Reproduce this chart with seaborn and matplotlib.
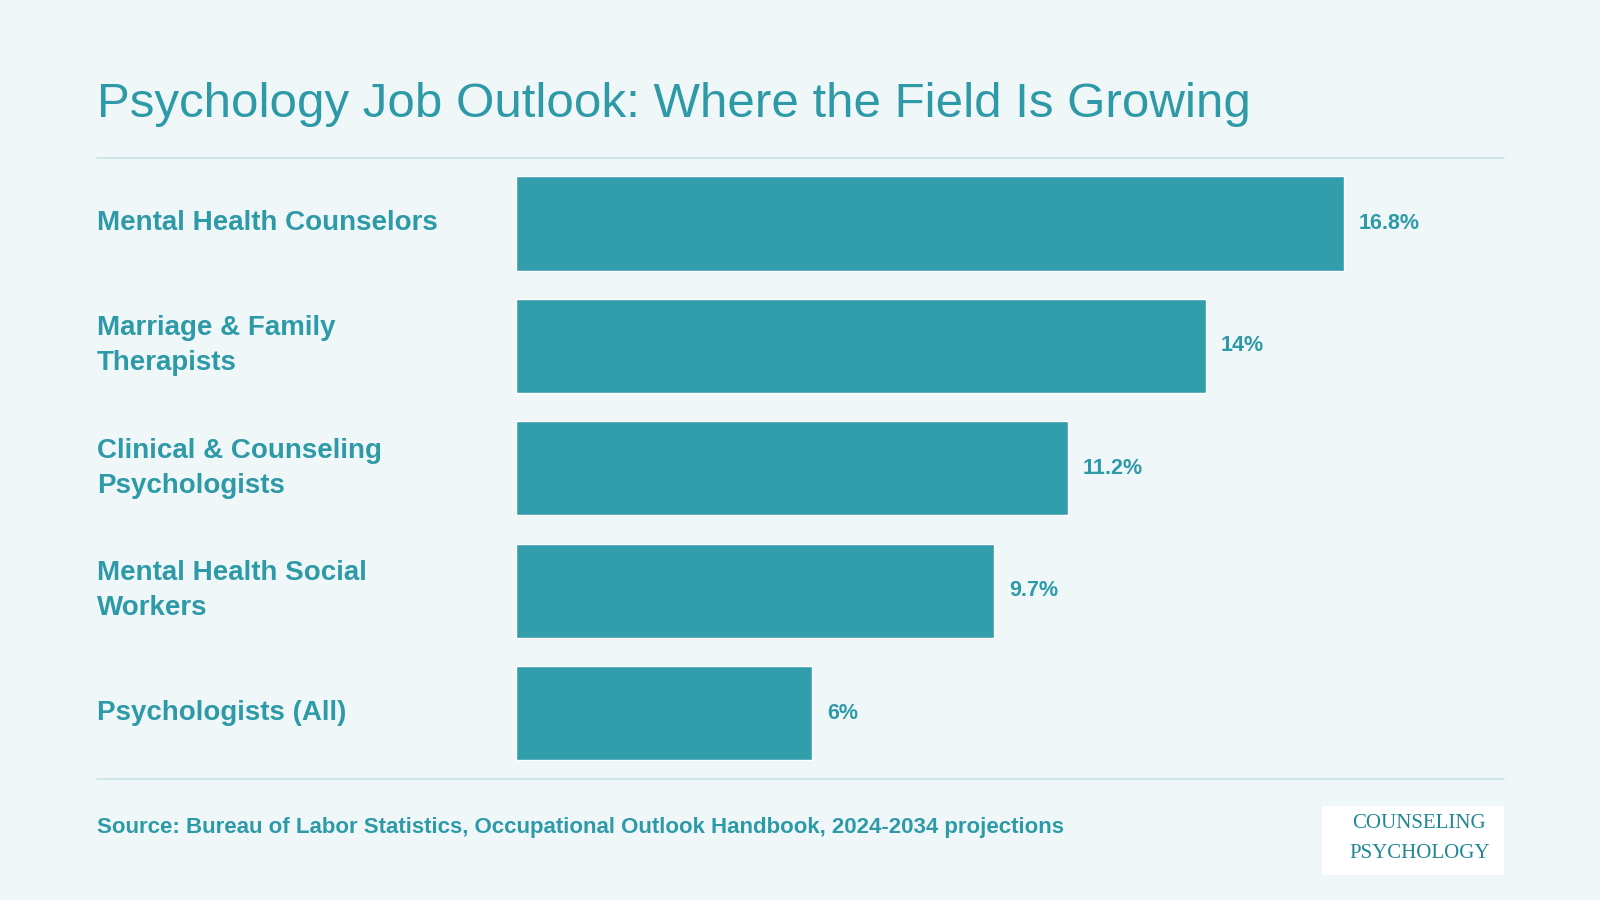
import matplotlib
matplotlib.use("Agg")
import matplotlib.pyplot as plt
import seaborn as sns
import pandas as pd

categories = ["Mental Health Counselors", "Marriage & Family\nTherapists",
              "Clinical & Counseling\nPsychologists", "Mental Health Social\nWorkers",
              "Psychologists (All)"]
growth = [16.8, 14, 11.2, 9.7, 6]
value_labels = ["16.8%", "14%", "11.2%", "9.7%", "6%"]

BG = "#EFF7F8"
TEAL = "#329EAC"
TEXT = "#2E9AA8"

sns.set_theme(style="white")
plt.rcParams["font.family"] = ["Liberation Sans", "DejaVu Sans"]

df = pd.DataFrame({"job": categories, "growth": growth})

fig = plt.figure(figsize=(16, 9), dpi=100, facecolor=BG)
ax = fig.add_axes([0.3227, 0.1395, 0.616, 0.6802])
ax.set_facecolor(BG)
sns.barplot(data=df, y="job", x="growth", color=TEAL, width=0.77, saturation=1, ax=ax)
ax.set_xlim(0, 20)
ax.set_xlabel("")
ax.set_ylabel("")
ax.set_xticks([])
ax.set_yticks([])
for s in ax.spines.values():
    s.set_visible(False)

for i, (v, lab) in enumerate(zip(growth, value_labels)):
    ax.text(v + 0.3, i, lab, va="center", ha="left", fontsize=15.5, fontweight="bold", color=TEXT)

# category labels at the left margin
for i, cat in enumerate(categories):
    y_fig = 0.1395 + 0.6802 * (1 - (i + 0.5) / 5)
    fig.text(0.0606, y_fig, cat, va="center", ha="left", fontsize=20, fontweight="bold",
             color=TEXT, linespacing=1.45)

fig.text(0.0606, 0.884, "Psychology Job Outlook: Where the Field Is Growing",
         fontsize=35.5, color=TEXT, va="center", ha="left")
fig.add_artist(plt.Line2D([0.0606, 0.94], [0.825, 0.825], color="#C8E3E7", lw=1.2))
fig.add_artist(plt.Line2D([0.0606, 0.94], [0.134, 0.134], color="#C8E3E7", lw=1.2))
fig.text(0.0606, 0.081, "Source: Bureau of Labor Statistics, Occupational Outlook Handbook, 2024-2034 projections",
         fontsize=16, fontweight="bold", color=TEXT, va="center", ha="left")

# logo box
fig.add_artist(plt.Rectangle((0.826, 0.028), 0.114, 0.077, facecolor="white",
                             edgecolor="none", transform=fig.transFigure))
fig.text(0.887, 0.085, "COUNSELING", fontsize=15, family="Liberation Serif", color="#1F8795",
         ha="center", va="center")
fig.text(0.887, 0.052, "PSYCHOLOGY", fontsize=15, family="Liberation Serif", color="#1F8795",
         ha="center", va="center")

fig.savefig("out.png", dpi=100, facecolor=BG)
